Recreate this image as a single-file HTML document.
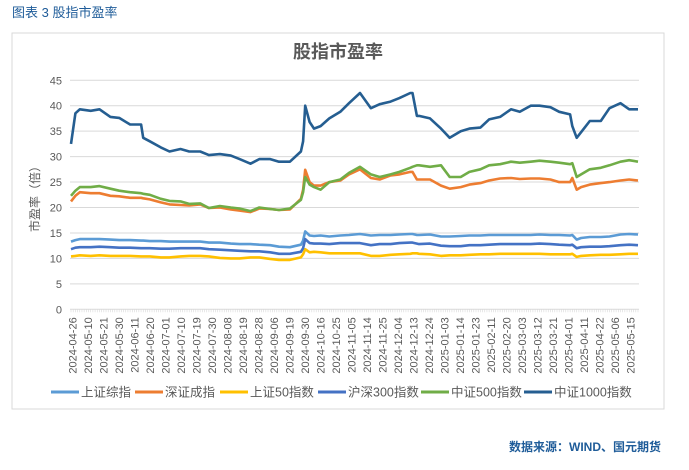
<!DOCTYPE html>
<html><head><meta charset="utf-8"><style>
body{margin:0;background:#fff;width:689px;height:465px;overflow:hidden;font-family:"Liberation Sans","Noto Sans CJK SC",sans-serif;}
</style></head><body>
<svg width="689" height="465" viewBox="0 0 689 465" xmlns="http://www.w3.org/2000/svg">
<text x="12" y="17" font-size="13" fill="#1F5C99" font-family="Liberation Sans, Noto Sans CJK SC, sans-serif">图表 3  股指市盈率</text>
<rect x="12" y="33" width="652" height="376" fill="#fff" stroke="#D9D9D9" stroke-width="1"/>
<text x="338" y="58" font-size="18" font-weight="bold" fill="#595959" text-anchor="middle" font-family="Liberation Sans, Noto Sans CJK SC, sans-serif">股指市盈率</text>
<text transform="translate(39,196) rotate(-90)" font-size="12" fill="#595959" text-anchor="middle" font-family="Liberation Sans, Noto Sans CJK SC, sans-serif">市盈率（倍）</text>
<g id="grid"></g><g id="xaxis"></g><g id="series"></g>
<g id="legend"></g>
<text x="661" y="451" font-size="12" font-weight="bold" fill="#1F5C99" text-anchor="end" font-family="Liberation Sans, Noto Sans CJK SC, sans-serif">数据来源：WIND、国元期货</text>
</svg>
<script>
const yTicks=[0,5,10,15,20,25,30,35,40,45];
const dateLabels=["2024-04-26","2024-05-10","2024-05-21","2024-05-30","2024-06-11","2024-06-20","2024-07-01","2024-07-10","2024-07-19","2024-07-30","2024-08-08","2024-08-19","2024-08-28","2024-09-06","2024-09-19","2024-09-30","2024-10-16","2024-10-25","2024-11-05","2024-11-14","2024-11-25","2024-12-04","2024-12-13","2024-12-24","2025-01-03","2025-01-14","2025-01-23","2025-02-11","2025-02-20","2025-03-03","2025-03-12","2025-03-21","2025-04-01","2025-04-11","2025-04-22","2025-05-06","2025-05-15"];
const days=[0,2,4,9,13,18,22,27,32,33,36,41,45,50,54,59,63,68,73,77,82,86,91,95,100,105,106,107,109,111,114,118,123,127,132,137,141,146,150,155,156,158,159,164,169,173,178,182,187,191,196,201,205,210,214,219,223,228,229,231,233,237,242,246,251,255,259];
const seriesNames=["上证综指","深证成指","上证50指数","沪深300指数","中证500指数","中证1000指数"];
const szComposite=[13.3,13.6,13.8,13.8,13.8,13.7,13.6,13.6,13.5,13.5,13.4,13.4,13.3,13.3,13.3,13.3,13.1,13.1,12.9,12.8,12.8,12.7,12.6,12.3,12.2,12.7,13.5,15.3,14.5,14.4,14.5,14.3,14.5,14.6,14.8,14.5,14.6,14.6,14.7,14.8,14.8,14.6,14.6,14.7,14.3,14.3,14.4,14.5,14.5,14.6,14.6,14.6,14.6,14.6,14.7,14.6,14.6,14.5,14.6,13.7,14.0,14.2,14.2,14.3,14.7,14.8,14.7];
const szComponent=[21.2,22.3,23,22.8,22.8,22.3,22.2,21.9,21.9,21.8,21.6,21,20.6,20.5,20.4,20.6,19.9,20,19.6,19.4,19.1,19.8,19.7,19.5,19.6,21.7,23.5,27.4,25,24.3,24.3,25,25.3,26.5,27.5,25.8,25.5,26.3,26.5,27,27,25.5,25.5,25.5,24.3,23.7,24,24.5,24.8,25.3,25.7,25.8,25.6,25.7,25.7,25.5,25,25,25.8,23.5,24,24.5,24.8,25,25.3,25.5,25.3];
const sz50=[10.4,10.5,10.6,10.5,10.6,10.5,10.5,10.5,10.4,10.4,10.4,10.2,10.2,10.4,10.5,10.5,10.4,10.1,10.0,10.0,10.2,10.2,9.9,9.7,9.7,10.2,10.8,11.8,11.2,11.3,11.2,11.0,11.0,11.0,11.0,10.5,10.5,10.7,10.8,10.9,11.0,11.0,10.9,10.8,10.5,10.6,10.6,10.7,10.8,10.8,10.9,10.9,10.9,10.9,10.9,10.8,10.8,10.8,10.9,10.3,10.5,10.6,10.7,10.7,10.8,10.9,10.9];
const hs300=[11.8,12.1,12.2,12.2,12.3,12.2,12.1,12.1,12.0,12.0,12.0,11.9,11.9,12.0,12.0,12.0,11.8,11.7,11.6,11.5,11.4,11.4,11.2,10.9,10.9,11.3,12.0,13.8,13.0,12.9,12.9,12.8,13.0,13.0,13.0,12.6,12.8,12.8,13.0,13.1,13.1,12.9,12.8,12.9,12.5,12.4,12.4,12.6,12.6,12.7,12.8,12.8,12.8,12.8,12.9,12.8,12.7,12.6,12.7,12.0,12.2,12.3,12.3,12.4,12.6,12.7,12.6];
const csi500=[22.3,23.3,24,24,24.2,23.7,23.3,23,22.8,22.7,22.5,21.7,21.3,21.2,20.7,20.8,19.9,20.3,20,19.8,19.3,20,19.7,19.5,19.8,21.5,23,26,24.5,24,23.5,25,25.5,26.8,28,26.5,26,26.5,27,27.8,28,28.3,28.3,28,28.3,26,26,27,27.5,28.3,28.5,29,28.8,29,29.2,29,28.8,28.5,28.7,26,26.5,27.5,27.8,28.3,29,29.3,29];
const csi1000=[32.5,38.5,39.3,39,39.3,37.8,37.6,36.3,36.3,33.7,33,31.8,31,31.5,31,31,30.3,30.5,30.2,29.5,28.6,29.5,29.5,29,29,31,33,40,36.8,35.5,36,37.5,38.8,40.5,42.5,39.5,40.3,40.8,41.5,42.5,42.5,38,38,37.5,35.5,33.7,35,35.5,35.7,37.3,37.8,39.3,38.8,40,40,39.7,38.8,38.3,36,33.7,34.8,37,37,39.5,40.5,39.3,39.3];

const NS="http://www.w3.org/2000/svg";
const X0=71,X1=638,DMAX=259,Y0=309.3,YPU=5.09;
const xs=d=>X0+(d/DMAX)*(X1-X0);
const ys=v=>Y0-v*YPU;
function mk(tag,attrs,parent){const e=document.createElementNS(NS,tag);for(const k in attrs)e.setAttribute(k,attrs[k]);parent.appendChild(e);return e;}
const grid=document.getElementById('grid');
yTicks.forEach(t=>{
  const l=mk('line',{x1:70,x2:639,y1:ys(t),y2:ys(t),stroke:t===0?'#D9D9D9':'#D9D9D9','stroke-width':1},grid);
  
  
  const tx=mk('text',{x:62,y:ys(t)+4,'font-size':11,fill:'#595959','text-anchor':'end'},grid);
  tx.textContent=t;
  
  
});
const xa=document.getElementById('xaxis');
for(let d=0;d<=DMAX;d+=1){
  const tk=mk('line',{x1:xs(d),x2:xs(d),y1:Y0,y2:Y0+3,stroke:'#D9D9D9','stroke-width':0.6},xa);
  
  
}
const labelStep=255/(dateLabels.length-1);
dateLabels.forEach((s,i)=>{
  const x=xs(i*labelStep)+1.5;
  const t=mk('text',{transform:`translate(${x+4},${Y0+8}) rotate(-90)`,'font-size':11,fill:'#595959','text-anchor':'end'},xa);
  t.textContent=s;
  
  
});
const colors=['#5B9BD5','#ED7D31','#FFC000','#4472C4','#70AD47','#255E91'];
const allSeries=[szComposite,szComponent,sz50,hs300,csi500,csi1000];
const keys=['sse-composite','szse-component','sse50','csi300','csi500','csi1000'];
const sg=document.getElementById('series');
allSeries.forEach((arr,k)=>{
  const p=mk('path',{d:arr.map((v,i)=>(i?'L':'M')+xs(days[i]).toFixed(1)+' '+ys(v).toFixed(1)).join(''),fill:'none',stroke:colors[k],'stroke-width':2.6,'stroke-linejoin':'round'},sg);
  
  
});
const lg=document.getElementById('legend');
const lx=[51,135,220,318,421,524];
seriesNames.forEach((n,k)=>{
  const g=mk('g',{},lg);
  
  
  mk('line',{x1:lx[k],x2:lx[k]+28,y1:392,y2:392,stroke:colors[k],'stroke-width':3},g);
  const t=mk('text',{x:lx[k]+30,y:396.5,'font-size':12.5,fill:'#595959'},g);
  t.textContent=n;
});
</script>
</body></html>
